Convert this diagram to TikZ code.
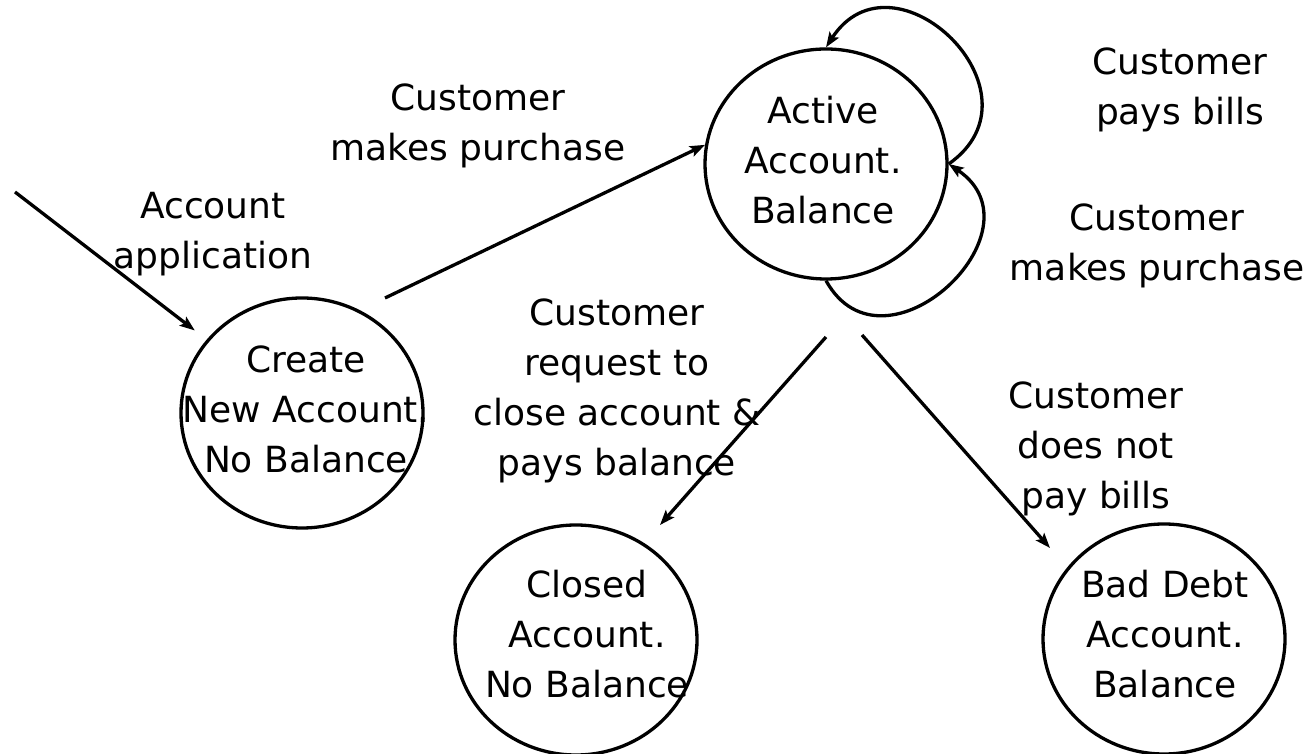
\documentclass[tikz,border=0pt]{standalone}
\usepackage{fontspec}
\setmainfont{DejaVu Sans}
\usetikzlibrary{shapes.geometric,arrows.meta}

\begin{document}
\begin{tikzpicture} [
    x=1pt, y=1pt,
    line width=3.3pt,
    >={Stealth[length=15pt,width=11pt,inset=3pt]},
  ]

  \tikzstyle{acct} = [
    ellipse,
    draw,
    minimum width=242pt,
    minimum height=230pt,
  ]
  \tikzstyle{accttext} = [
    align=center,
    inner sep=0pt,
    font=\fontsize{36}{50}\selectfont,
  ]
  \tikzstyle{event} = [
    accttext,
  ]

  \useasboundingbox (0,0) rectangle (1313,754);

  % states
  \node[acct] (create) at (302,341)  {};
  \node[acct] (active) at (826,590)  {};
  \node[acct] (closed) at (576,114)  {};
  \node[acct] (bad)    at (1164,115) {};

  \node[accttext] at ([shift={(4pt,4pt)}]create)  {Create\\New Account.\\No Balance};
  \node[accttext] at ([shift={(-3pt,4pt)}]active) {Active\\Account.\\Balance};
  \node[accttext] at ([shift={(11pt,6pt)}]closed) {Closed\\Account.\\No Balance};
  \node[accttext] at ([shift={(1pt,5pt)}]bad)     {Bad Debt\\Account.\\Balance};

  % events
  \node[event] (lapp)   at (213,520)  {Account\\application};
  \node[event] (lbuy)   at (478,628)  {Customer\\makes purchase};
  \node[event] (lpay)   at (1180,664) {Customer\\pays bills};
  \node[event] (lmore)  at (1157,508) {Customer\\makes purchase};
  \node[event] (lclose) at (617,363)  {Customer\\request to\\close account \&\\pays balance};
  \node[event] (ldebt)  at (1096,305) {Customer\\does not\\pay bills};

  \coordinate (entry)     at (15,562);
  \coordinate (buy)       at (385,456);
  \coordinate (closefrom) at (826,417);
  \coordinate (closeto)   at (660,229);
  \coordinate (debtfrom)  at (862,419);
  \coordinate (debtto)    at (1050,206);

  \draw[->,shorten >=15pt] (entry) -- (create);
  \draw[->] (buy) -- (active.171);
  \path[->] (active.east)  edge[out=35,in=57,looseness=1.88]  (active.north);
  \path[->] (active.south) edge[out=-61,in=-34,looseness=1.8] (active.east);
  \draw[->] (closefrom) -- (closeto);
  \draw[->] (debtfrom)  -- (debtto);

\end{tikzpicture}
\end{document}
